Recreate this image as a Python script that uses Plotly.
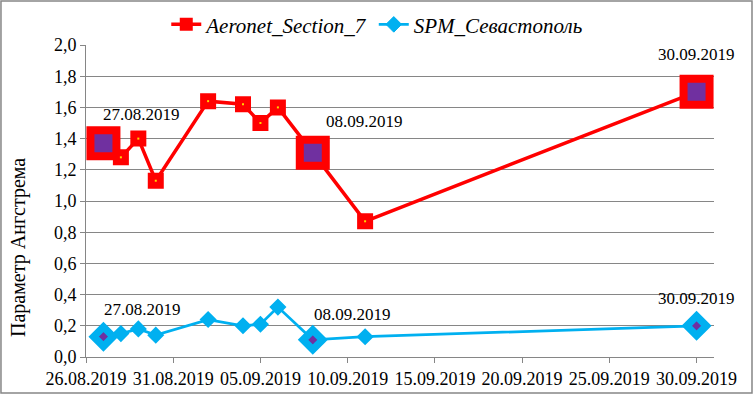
import plotly.graph_objects as go

# ---- data ----
dates = ["2019-08-27", "2019-08-28", "2019-08-29", "2019-08-30", "2019-09-02",
         "2019-09-04", "2019-09-05", "2019-09-06", "2019-09-08", "2019-09-11",
         "2019-09-30"]
aeronet = [1.37, 1.28, 1.40, 1.13, 1.64, 1.62, 1.50, 1.60, 1.31, 0.87, 1.70]
spm = [0.13, 0.15, 0.18, 0.14, 0.24, 0.20, 0.21, 0.32, 0.11, 0.13, 0.20]
highlight = ["2019-08-27", "2019-09-08", "2019-09-30"]
label_texts = ["27.08.2019", "08.09.2019", "30.09.2019"]
series_names = ["Aeronet_Section_7", "SPM_Севастополь"]
y_title = "Параметр Ангстрема"

RED = "#FF0000"
BLUE = "#00B0F0"
PURPLE = "#7030A0"
YELLOW = "#FFD700"
GRAY = "#868686"
FONT = "Liberation Serif"

is_hi = [d in highlight for d in dates]

fig = go.Figure()

# Aeronet
fig.add_trace(go.Scatter(
    x=dates, y=aeronet, mode="lines+markers", showlegend=False,
    line=dict(color=RED, width=3.5),
    marker=dict(symbol="square", opacity=1,
                size=[26 if h else 12 for h in is_hi],
                color=[PURPLE if h else RED for h in is_hi],
                line=dict(color=RED, width=[8 if h else 4 for h in is_hi]))))
fig.add_trace(go.Scatter(
    x=[d for d, h in zip(dates, is_hi) if not h],
    y=[v for v, h in zip(aeronet, is_hi) if not h],
    mode="markers", showlegend=False,
    marker=dict(symbol="square", size=2, color=YELLOW, opacity=1)))

# SPM
fig.add_trace(go.Scatter(
    x=dates, y=spm, mode="lines+markers", showlegend=False,
    line=dict(color=BLUE, width=2.75),
    marker=dict(symbol="diamond", opacity=1,
                size=[15 if h else 11 for h in is_hi],
                color=[PURPLE if h else BLUE for h in is_hi],
                line=dict(color=BLUE, width=[7.4 if h else 2 for h in is_hi]))))

# legend entries
fig.add_trace(go.Scatter(
    x=[None], y=[None], mode="lines+markers", name=series_names[0],
    line=dict(color=RED, width=3.5),
    marker=dict(symbol="square", size=11, color=RED, line=dict(color=RED, width=2))))
fig.add_trace(go.Scatter(
    x=[None], y=[None], mode="lines+markers", name=series_names[1],
    line=dict(color=BLUE, width=2.75),
    marker=dict(symbol="diamond", size=12, color=BLUE, line=dict(color=BLUE, width=1))))

# date labels
a_shifts = [(38, 29), (52, 31), (0, 37)]
s_shifts = [(39, 27), (40, 25), (0, 27)]
for d, t, (dx, dy) in zip(highlight, label_texts, a_shifts):
    v = aeronet[dates.index(d)]
    fig.add_annotation(x=d, y=v, text=t, showarrow=False, xshift=dx, yshift=dy,
                       font=dict(family=FONT, size=17, color="black"))
for d, t, (dx, dy) in zip(highlight, label_texts, s_shifts):
    v = spm[dates.index(d)]
    fig.add_annotation(x=d, y=v, text=t, showarrow=False, xshift=dx, yshift=dy,
                       font=dict(family=FONT, size=17, color="black"))

# y title
fig.add_annotation(xref="paper", yref="paper", x=-0.1067, y=0.3526, text=y_title,
                   textangle=-90, showarrow=False, xanchor="center", yanchor="middle",
                   font=dict(family=FONT, size=20, color="black"))

# border
fig.add_shape(type="rect", xref="paper", yref="paper",
              x0=-0.1354, x1=1.0605, y0=-0.1154, y1=1.141,
              line=dict(color=GRAY, width=1.5))

fig.update_layout(
    width=754, height=395,
    margin=dict(l=86, r=40, t=45, b=38, autoexpand=False),
    paper_bgcolor="white", plot_bgcolor="white",
    separators=", ",
    font=dict(family=FONT, size=18, color="black"),
    showlegend=True,
    legend=dict(orientation="h", xanchor="center", yanchor="middle",
                x=0.463, y=1.065,
                font=dict(family=FONT, size=21, style="italic"),
                itemwidth=30, bgcolor="rgba(0,0,0,0)"),
    xaxis=dict(type="date", range=["2019-08-26", "2019-10-01"],
               tick0="2019-08-26", dtick=5 * 86400000, tickformat="%d.%m.%Y",
               showgrid=False, showline=True, linecolor=GRAY, linewidth=1,
               ticks="outside", ticklen=5, tickcolor=GRAY,
               tickfont=dict(family=FONT, size=18), zeroline=False),
    yaxis=dict(range=[0, 2.0], dtick=0.2, tickformat=".1f",
               showgrid=True, gridcolor=GRAY, gridwidth=1,
               showline=True, linecolor=GRAY, linewidth=1,
               ticks="outside", ticklen=5, tickcolor=GRAY,
               tickfont=dict(family=FONT, size=18), zeroline=False),
)

fig.write_html("out.html", config={"displayModeBar": False},
               post_script="document.body.style.margin='0';document.body.style.overflow='hidden';")
